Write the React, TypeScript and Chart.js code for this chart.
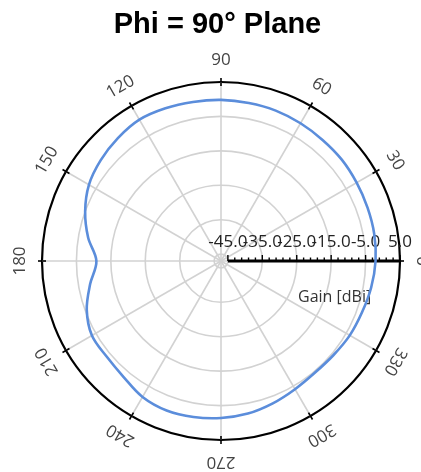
import React, { useEffect, useRef } from 'react';
import { Chart, registerables } from 'chart.js';

Chart.register(...registerables);

// Angles (degrees, counter-clockwise from east) and gain values (dBi)
const angleDeg = [0, 10, 20, 30, 40, 50, 60, 70, 80, 90, 100, 110, 120, 130, 140, 150, 160, 170,
  180, 190, 200, 210, 220, 230, 240, 250, 260, 270, 280, 290, 300, 310, 320, 330, 340, 350];
const gainDbi = [-2.1, -1.8, -1.7, -1.5, -1.2, -1.1, -0.8, -0.5, -0.4, -0.2, -0.1, 0.2, 0.4, -0.4, -1.4, -2.7, -5.0, -7.8,
  -10.8, -8.4, -5.5, -3.7, -3.7, -3.0, -1.4, -0.8, -1.0, -1.4, -2.0, -3.0, -4.0, -4.6, -4.4, -3.8, -3.4, -2.7];
const radialTicks = [-45, -35, -25, -15, -5, 5];
const radialTickLabels = ['-45.0', '-35.0', '-25.0', '-15.0', '-5.0', '5.0'];
const angleTicks = [0, 30, 60, 90, 120, 150, 180, 210, 240, 270, 300, 330];
const rMin = -47;
const rMax = 5;
const titleText = 'Phi = 90° Plane';
const radialAxisTitle = 'Gain [dBi]';

const STEP = 10;

export default function App() {
  const ref = useRef<HTMLCanvasElement | null>(null);

  useEffect(() => {
    document.body.style.margin = '0';
    const canvas = ref.current;
    if (!canvas) return;

    // Chart.js radar runs clockwise from the top; order the points so they run counter-clockwise from east.
    const n = angleDeg.length;
    const orderedAngles: number[] = [];
    const orderedGain: number[] = [];
    for (let i = 0; i < n; i++) {
      const a = (360 - i * STEP) % 360;
      const k = angleDeg.indexOf(a);
      orderedAngles.push(a);
      orderedGain.push(gainDbi[k]);
    }
    const indexOfAngle = (a: number) => orderedAngles.indexOf(a % 360);

    const decor = {
      id: 'polarDecor',
      beforeDatasetsDraw(chart: any) {
        const s = chart.scales.r;
        const ctx = chart.ctx as CanvasRenderingContext2D;
        const R = s.getDistanceFromCenterForValue(rMax);
        ctx.save();
        // ticks on outer circle
        ctx.strokeStyle = '#000';
        ctx.lineWidth = 1.6;
        angleTicks.forEach((a) => {
          const i = indexOfAngle(a);
          const p1 = s.getPointPosition(i, R - 4);
          const p2 = s.getPointPosition(i, R + 4);
          ctx.beginPath();
          ctx.moveTo(p1.x, p1.y);
          ctx.lineTo(p2.x, p2.y);
          ctx.stroke();
        });
        // radial axis along 0 degrees
        const i0 = indexOfAngle(0);
        const start = s.getPointPosition(i0, s.getDistanceFromCenterForValue(radialTicks[0]));
        const end = s.getPointPosition(i0, R);
        ctx.lineWidth = 3;
        ctx.beginPath();
        ctx.moveTo(start.x, start.y);
        ctx.lineTo(end.x, end.y);
        ctx.stroke();
        ctx.lineWidth = 1.4;
        for (let v = radialTicks[0]; v <= rMax + 0.001; v += 2) {
          const p = s.getPointPosition(i0, s.getDistanceFromCenterForValue(v));
          const major = Math.abs(((v - radialTicks[0]) % 10)) < 0.001;
          ctx.beginPath();
          ctx.moveTo(p.x, p.y);
          ctx.lineTo(p.x, p.y - (major ? 6 : 3.5));
          ctx.stroke();
        }
        // radial tick labels
        ctx.fillStyle = '#222';
        ctx.font = '17px "Open Sans", sans-serif';
        ctx.textAlign = 'center';
        ctx.textBaseline = 'alphabetic';
        radialTicks.forEach((v, k) => {
          const p = s.getPointPosition(i0, s.getDistanceFromCenterForValue(v));
          ctx.fillText(radialTickLabels[k], p.x, p.y - 14);
        });
        // radial axis title
        const pt = s.getPointPosition(i0, s.getDistanceFromCenterForValue(-14));
        ctx.fillStyle = '#333';
        ctx.font = '16px "Open Sans", sans-serif';
        ctx.textBaseline = 'middle';
        ctx.fillText(radialAxisTitle, pt.x, pt.y + 36);
        // angle labels
        ctx.fillStyle = '#444';
        ctx.font = '17px "Open Sans", sans-serif';
        angleTicks.forEach((a) => {
          const i = indexOfAngle(a);
          const p = s.getPointPosition(i, R + 22);
          ctx.save();
          ctx.translate(p.x, p.y);
          ctx.rotate(-((a - 90) * Math.PI) / 180);
          ctx.textAlign = 'center';
          ctx.textBaseline = 'middle';
          ctx.fillText(String(a), 0, 0);
          ctx.restore();
        });
        // title
        ctx.fillStyle = '#000';
        ctx.font = 'bold 29px "Liberation Sans", Arial, sans-serif';
        ctx.textAlign = 'center';
        ctx.textBaseline = 'alphabetic';
        ctx.fillText(titleText, s.xCenter - 3.5, 33);
        ctx.restore();
      },
    };

    const chart = new Chart(canvas, {
      type: 'radar',
      data: {
        labels: orderedAngles.map(String),
        datasets: [
          {
            data: orderedGain,
            borderColor: '#5b8ddb',
            borderWidth: 2.6,
            fill: false,
            pointRadius: 0,
            tension: 0.35,
          },
        ],
      },
      options: {
        responsive: false,
        animation: false,
        layout: { padding: { left: 42, right: 21, top: 82, bottom: 32 } },
        plugins: {
          legend: { display: false },
          title: { display: false },
          tooltip: { enabled: false },
        },
        scales: {
          r: {
            min: rMin,
            max: rMax,
            startAngle: 90,
            afterBuildTicks: (scale: any) => {
              scale.ticks = radialTicks.map((v) => ({ value: v }));
            },
            ticks: { display: false },
            pointLabels: { display: false },
            grid: {
              circular: true,
              color: (c: any) => (c.tick && c.tick.value === rMax ? '#000' : '#d2d2d2'),
              lineWidth: (c: any) => (c.tick && c.tick.value === rMax ? 2.2 : 1.6),
            },
            angleLines: {
              color: '#d2d2d2',
              lineWidth: (c: any) => (orderedAngles[c.index] % 30 === 0 ? 1.6 : 0),
            },
          },
        },
      },
      plugins: [decor],
    } as any);

    return () => chart.destroy();
  }, []);

  return <canvas ref={ref} width={421} height={472} style={{ display: 'block', width: 421, height: 472 }} />;
}
